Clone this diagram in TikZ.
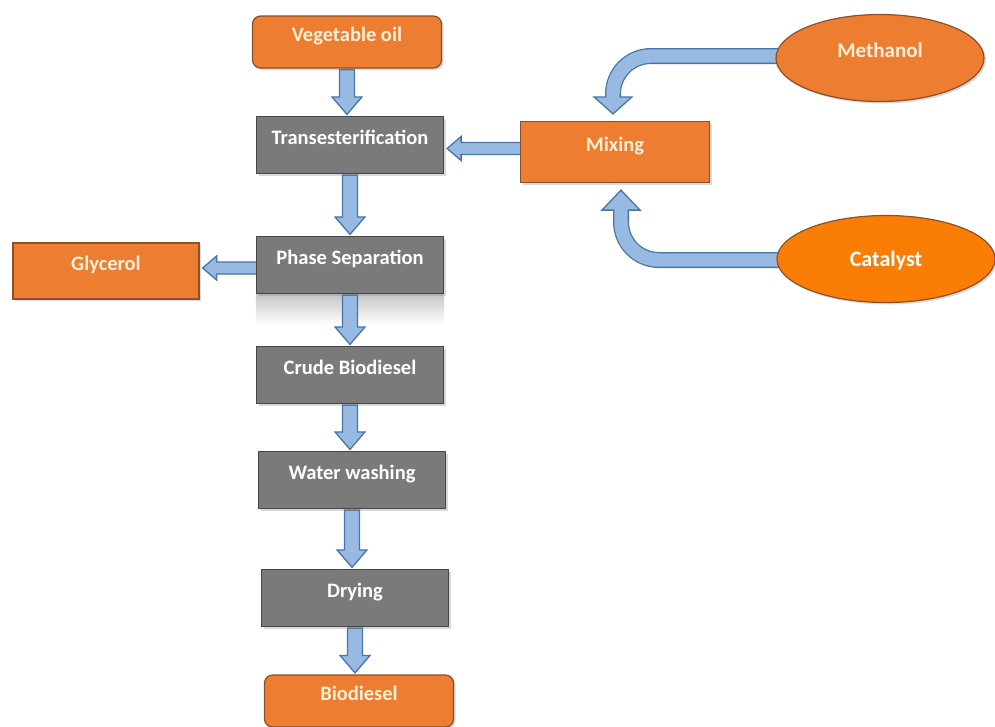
\documentclass[tikz,border=0pt]{standalone}
\usepackage{fontspec}
\setmainfont{Carlito}
\usepackage{tikz}
\usetikzlibrary{calc, shapes.geometric, shadows}
\definecolor{boxorange}{RGB}{237,125,49}
\definecolor{catorange}{RGB}{250,125,5}
\definecolor{boxgrey}{RGB}{122,122,122}
\definecolor{edgegrey}{RGB}{70,70,70}
\definecolor{edgebrown}{RGB}{140,80,40}
\definecolor{flowfill}{RGB}{150,186,226}
\definecolor{flowline}{RGB}{72,116,168}
\definecolor{lighttext}{RGB}{255,240,215}
\pgfdeclarelayer{background}
\pgfsetlayers{background,main}

% block arrow going down from #1 to #2
\newcommand{\downflow}[2]{%
  \draw[flowedge] let \p1=(#1.south), \p2=(#2.north) in
    (\x1-7.5pt,\y1-1pt) -- (\x1-7.5pt,\y2+19pt) -- (\x1-15pt,\y2+19pt) -- (\x1,\y2+1.5pt)
    -- (\x1+15pt,\y2+19pt) -- (\x1+7.5pt,\y2+19pt) -- (\x1+7.5pt,\y1-1pt) -- cycle;}
% block arrow going left from #1 to #2
\newcommand{\leftflow}[2]{%
  \draw[flowedge] let \p1=(#1.west), \p2=(#2.east), \n1={(\y1+\y2)/2} in
    (\x1+3pt,\n1+6pt) -- (\x2+17pt,\n1+6pt) -- (\x2+17pt,\n1+12pt) -- (\x2+3pt,\n1)
    -- (\x2+17pt,\n1-12pt) -- (\x2+17pt,\n1-6pt) -- (\x1+3pt,\n1-6pt) -- cycle;}

\begin{document}
\begin{tikzpicture}[x=1pt, y=1pt,
  boxtext/.style={font=\fontsize{20.5}{24}\selectfont\bfseries, text height=12pt, text depth=14pt, align=center},
  boxshadow/.style={drop shadow={shadow xshift=2pt, shadow yshift=-2pt, opacity=0.3}},
  feedbox/.style={boxtext, rectangle, draw=edgebrown, fill=boxorange, text=lighttext,
              line width=1.2pt, minimum width=189pt, minimum height=56pt, boxshadow},
  procbox/.style={boxtext, rectangle, draw=edgegrey, fill=boxgrey, text=white,
              line width=1.2pt, minimum width=187pt, minimum height=57pt, boxshadow},
  feedoval/.style={boxtext, ellipse, draw=edgebrown, fill=boxorange, text=lighttext,
              line width=1.2pt, minimum width=208pt, minimum height=87pt, boxshadow},
  flowedge/.style={fill=flowfill, draw=flowline, line width=1.3pt, line join=miter},
  bandline/.style={line width=16pt, draw=flowline, rounded corners=38pt},
  bandfill/.style={line width=13.4pt, draw=flowfill, rounded corners=38pt}
]
\useasboundingbox (0,0) rectangle (995,-726);

\node[feedbox, rounded corners=8pt, minimum height=52pt] (veg) at (347,-42) {Vegetable oil};
\node[procbox] (trans) at (350,-145) {Transesterification};
\node[feedbox, minimum height=61pt] (mix) at (615,-152) {Mixing};
\node[feedoval, font=\fontsize{21}{25}\selectfont\bfseries] (meth) at (880,-58) {Methanol};
\node[feedoval, fill=catorange, text=white, minimum width=218pt,
      font=\fontsize{22}{26}\selectfont\bfseries, text height=18pt, text depth=4pt] (cat) at (886,-259) {Catalyst};
\node[feedbox, minimum width=186pt] (glyc) at (106,-271) {Glycerol};
\node[procbox] (phase) at (350,-265) {Phase Separation};
\node[procbox] (crude) at (350,-375) {Crude Biodiesel};
\node[procbox] (water) at (352,-480) {Water washing};
\node[procbox] (dry) at (355,-598) {Drying};
\node[feedbox, rounded corners=8pt, minimum height=52pt] (bio) at (359,-701) {Biodiesel};

\coordinate (mtip) at ($(mix.north)+(-2,7)$);
\coordinate (ctip) at ($(mix.south)+(6,-7)$);

\begin{pgfonlayer}{background}
\shade[top color=gray!45, bottom color=white] (phase.south west) rectangle ($(phase.south east)+(0,-30)$);

\foreach \a/\b in {veg/trans, trans/phase, phase/crude, crude/water, water/dry, dry/bio}
  {\downflow{\a}{\b}}
\leftflow{mix}{trans}
\leftflow{phase}{glyc}

% methanol into mixing
\draw[bandline] ($(meth.west)+(8,2)$) -| ($(mtip)+(0,17)$);
\draw[flowedge] ($(mtip)+(-19,17)$) -- (mtip) -- ($(mtip)+(19,17)$) -- cycle;
\draw[bandfill] ($(meth.west)+(8,2)$) -| ($(mtip)+(0,15.5)$);
% catalyst into mixing
\draw[bandline] ($(cat.west)+(8,-1)$) -| ($(ctip)+(0,-20)$);
\draw[flowedge] ($(ctip)+(-19,-20)$) -- (ctip) -- ($(ctip)+(19,-20)$) -- cycle;
\draw[bandfill] ($(cat.west)+(8,-1)$) -| ($(ctip)+(0,-18.5)$);
\end{pgfonlayer}
\end{tikzpicture}
\end{document}
